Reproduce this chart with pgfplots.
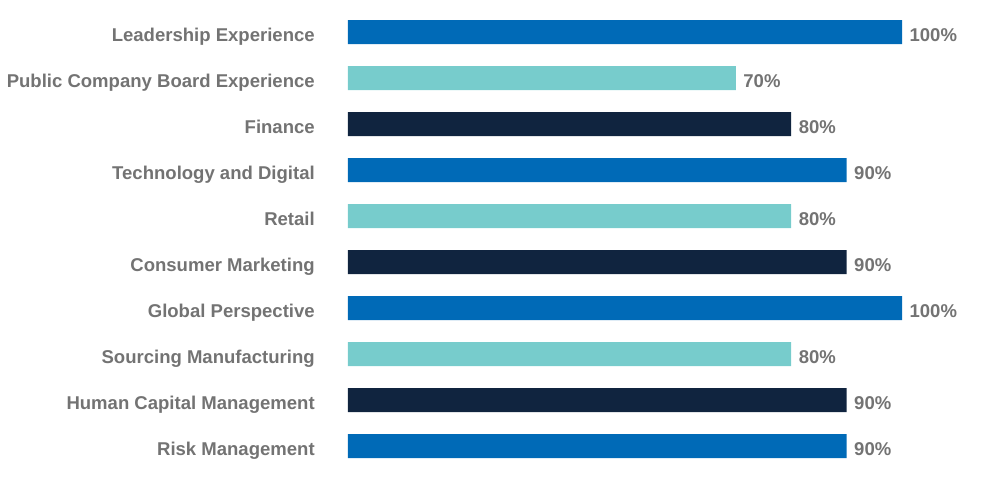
\documentclass[border=0pt]{standalone}
\usepackage{fontspec}
\setmainfont{Liberation Sans}
\usepackage{pgfplots}
\pgfplotsset{compat=1.18}
\definecolor{cblue}{HTML}{006AB7}
\definecolor{cteal}{HTML}{77CCCC}
\definecolor{cnavy}{HTML}{10243F}
\definecolor{cgray}{HTML}{737373}
\begin{document}
\begin{tikzpicture}
\begin{axis}[
  scale only axis,
  width=415.5pt, height=345pt,
  xmin=0, xmax=100,
  ymin=-0.5, ymax=9.5,
  y dir=reverse,
  xbar, bar width=18pt, bar shift=0pt,
  axis line style={draw=none},
  major tick length=0pt,
  xtick=\empty,
  ytick={0,...,9},
  /pgf/number format/assume math mode=true,
  yticklabels={Leadership Experience, Public Company Board Experience, Finance, Technology and Digital, Retail, Consumer Marketing, Global Perspective, Sourcing Manufacturing, Human Capital Management, Risk Management},
  yticklabel style={font=\fontsize{13.9pt}{16pt}\selectfont\bfseries, text=cgray, inner sep=0pt, anchor=base east, xshift=-24.75pt, yshift=-7pt},
  nodes near coords={\pgfmathprintnumber{\pgfplotspointmeta}\%},
  point meta=x,
  every node near coord/.append style={font=\fontsize{13.9pt}{16pt}\selectfont\bfseries, text=cgray, anchor=base west, inner sep=0pt, xshift=5.5pt, yshift=-7pt},
  clip=false,
]
\addplot[fill=cblue, draw=none] coordinates {(100,0) (90,3) (100,6) (90,9)};
\addplot[fill=cteal, draw=none] coordinates {(70,1) (80,4) (80,7)};
\addplot[fill=cnavy, draw=none] coordinates {(80,2) (90,5) (90,8)};
\end{axis}
\pgfresetboundingbox
\path[use as bounding box] (-261pt,-8.25pt) rectangle (487.5pt,351.75pt);
\end{tikzpicture}
\end{document}
